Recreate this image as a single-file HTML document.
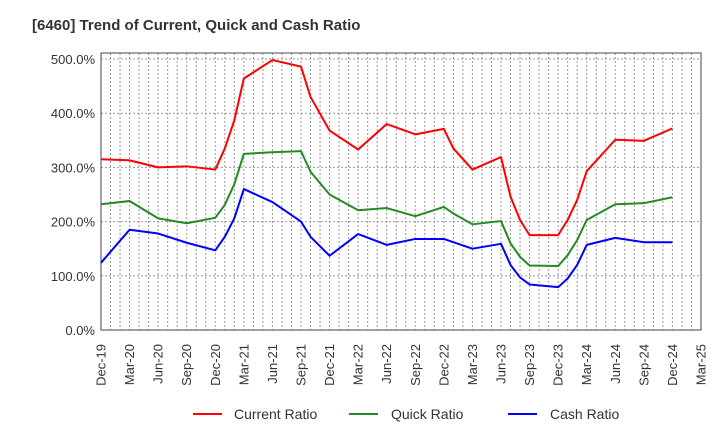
<!DOCTYPE html>
<html><head><meta charset="utf-8"><style>
body{margin:0;background:#fff;font-family:"Liberation Sans",sans-serif;}
svg text{font-family:"Liberation Sans",sans-serif;}
</style></head><body>
<svg width="720" height="440" viewBox="0 0 720 440">
<text x="32" y="30" font-size="15" font-weight="bold" fill="#333">[6460]  Trend of Current, Quick and Cash Ratio</text>
<g id="grid"></g>
<g id="axes"></g>
<g id="series"></g>
<g>
<line x1="193" y1="414" x2="222" y2="414" stroke="#f00" stroke-width="2"/>
<text x="234" y="419" font-size="14" fill="#333">Current Ratio</text>
<line x1="349" y1="414" x2="378" y2="414" stroke="#228b22" stroke-width="2"/>
<text x="391" y="419" font-size="14" fill="#333">Quick Ratio</text>
<line x1="508" y1="414" x2="537" y2="414" stroke="#00f" stroke-width="2"/>
<text x="550" y="419" font-size="14" fill="#333">Cash Ratio</text>
</g>
</svg>
<script>
const months=[0,3,6,9,12,13,14,15,18,21,22,24,27,30,33,36,37,39,42,43,44,45,48,49,50,51,54,57,60];
const currentRatio=[315,313,300,302,296,335,387,464,498,486,430,368,333,380,361,371,335,296,319,246,203,175,175,203,240,293,351,349,372];
const quickRatio=[232,238,206,197,207,231,269,325,328,330,292,250,221,225,210,227,215,195,201,160,135,119,118,138,166,203,232,234,245];
const cashRatio=[124,185,178,161,147,172,206,260,236,200,172,137,177,157,168,168,162,150,159,120,97,84,79,95,120,157,170,162,162];
const xLabels=["Dec-19","Mar-20","Jun-20","Sep-20","Dec-20","Mar-21","Jun-21","Sep-21","Dec-21","Mar-22","Jun-22","Sep-22","Dec-22","Mar-23","Jun-23","Sep-23","Dec-23","Mar-24","Jun-24","Sep-24","Dec-24","Mar-25"];
const yTicks=[0,100,200,300,400,500];
const L=101,R=701,T=53,B=330,NM=63;
const xs=m=>L+(R-L)*m/NM;
const ys=v=>B-(B-59)*v/500;
const NS="http://www.w3.org/2000/svg";
function mk(tag,attrs,parent){const e=document.createElementNS(NS,tag);for(const k in attrs)e.setAttribute(k,attrs[k]);parent.appendChild(e);return e;}
const grid=document.getElementById('grid'),axes=document.getElementById('axes'),ser=document.getElementById('series');
for(let m=1;m<NM;m++){const l=mk('line',{x1:xs(m),x2:xs(m),y1:T,y2:B,stroke:'#999','stroke-width':1,'stroke-dasharray':'2,2'},grid);

}
yTicks.forEach(v=>{if(v>0){const l=mk('line',{x1:L,x2:R,y1:ys(v),y2:ys(v),stroke:'#999','stroke-width':1,'stroke-dasharray':'2,2'},grid);

}
const t=mk('text',{x:L-6,y:ys(v)+5,'font-size':13,fill:'#333','text-anchor':'end'},axes);t.textContent=v.toFixed(1)+'%';

});
const fr=mk('rect',{x:L,y:T,width:R-L,height:B-T,fill:'none',stroke:'#444','stroke-width':1},axes);


xLabels.forEach((s,i)=>{const x=xs(i*3);const t=mk('text',{x:0,y:0,'font-size':13,fill:'#333','text-anchor':'end',transform:`translate(${x+4.5},${B+14}) rotate(-90)`},axes);t.textContent=s;

});
[[currentRatio,'#f00','current-ratio-line'],[quickRatio,'#228b22','quick-ratio-line'],[cashRatio,'#00f','cash-ratio-line']].forEach(([d,c,n])=>{
const p=mk('polyline',{points:d.map((v,i)=>xs(months[i])+','+ys(v)).join(' '),fill:'none',stroke:c,'stroke-width':2,'stroke-linejoin':'round'},ser);

});
</script>
</body></html>
